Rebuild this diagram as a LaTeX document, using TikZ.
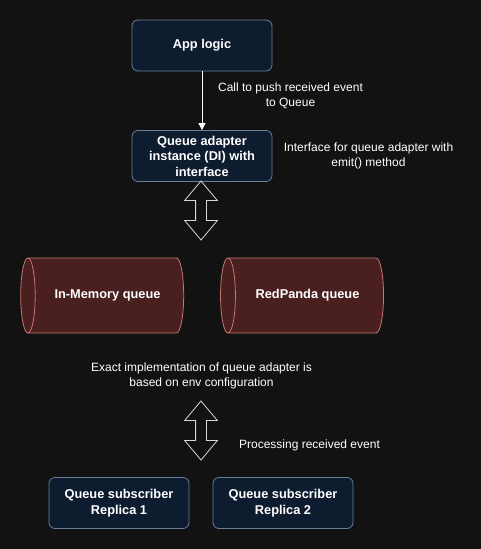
\documentclass[tikz,border=0pt]{standalone}
\usepackage{fontspec}
\setmainfont{Liberation Sans}
\usetikzlibrary{shapes.geometric, shapes.arrows, arrows.meta}
\definecolor{bgdark}{HTML}{121212}
\definecolor{boxfill}{HTML}{0E1C2F}
\definecolor{boxline}{HTML}{6A7F9B}
\definecolor{queuefill}{HTML}{4A1F1F}
\definecolor{queueline}{HTML}{C7766F}
\definecolor{arrowline}{HTML}{D8D8D8}

\tikzset{
  box/.style = {draw=boxline, fill=boxfill, rounded corners=6pt, line width=0.8pt,
    minimum width=140pt, minimum height=51pt, align=center, text=white,
    font=\bfseries\fontsize{12.8}{15.5}\selectfont},
  queue/.style = {cylinder, shape border rotate=180, aspect=0.8, draw=queueline,
    fill=queuefill, line width=0.8pt, minimum width=75pt, minimum height=163pt,
    text=white, font=\bfseries\fontsize{12.8}{15.5}\selectfont},
  bothways/.style = {double arrow, shape border rotate=90, draw=arrowline,
    fill=bgdark, line width=0.8pt, inner sep=5pt, minimum width=32pt,
    minimum height=59pt, double arrow head extend=11pt, double arrow tip angle=80},
  note/.style = {text=white, align=center, font=\fontsize{12}{15}\selectfont}
}

\begin{document}
\begin{tikzpicture}[x=1pt, y=-1pt]
\fill[bgdark] (0,0) rectangle (481,549);
\useasboundingbox (0,0) rectangle (481,549);

\node[box] (app) at (202,45.5) {App logic};
\node[box] (adapter) at (202,156) {Queue adapter\\instance (DI) with\\interface};
\draw[white, line width=0.8pt, -{Triangle[width=7pt,length=7pt]}] (app) -- (adapter);
\node[note] (pushnote) at (290.5,95.5) {Call to push received event\\to Queue};
\node[note] (ifnote) at (368.5,155.5) {Interface for queue adapter with\\emit() method};

\node[bothways] (upper) at (201,210.5) {};

\node[queue] (memory) at (107.5,295.5) {In-Memory queue};
\node[queue] (redpanda) at (307.5,295.5) {RedPanda queue};

\node[note] (envnote) at (201.5,375.5) {Exact implementation of queue adapter is\\based on env configuration};

\node[bothways] (lower) at (201,430.5) {};
\node[note] (procnote) at (309.5,445) {Processing received event};

\node[box] (rep1) at (119,503) {Queue subscriber\\Replica 1};
\node[box] (rep2) at (283,503) {Queue subscriber\\Replica 2};
\end{tikzpicture}
\end{document}
